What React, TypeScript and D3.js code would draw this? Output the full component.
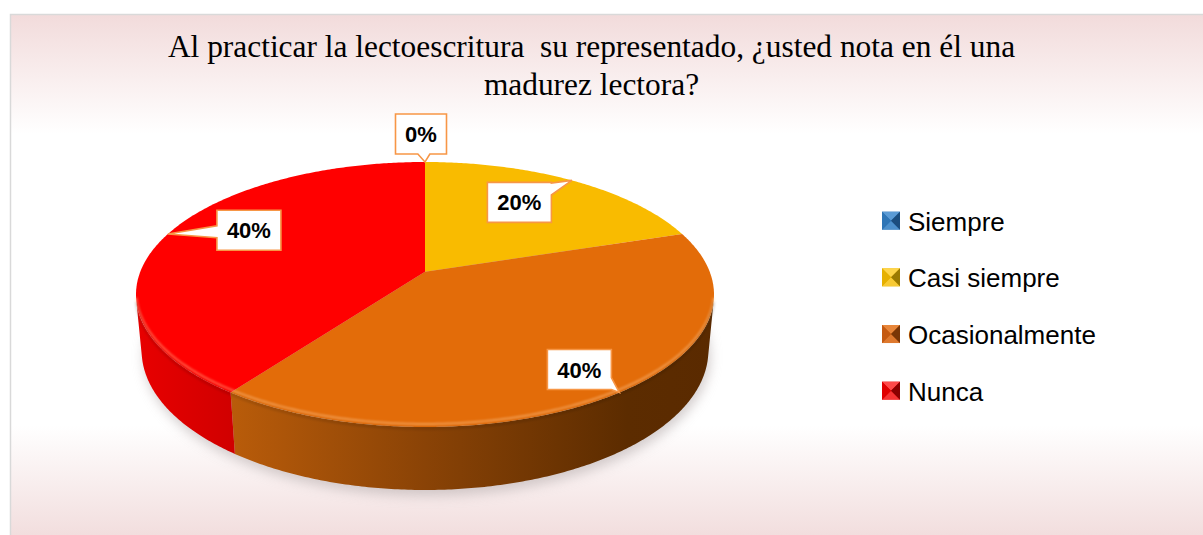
import React from "react";
import * as d3 from "d3";

const W = 1203;
const H = 535;

// ---- data ----
const categories = ["Siempre", "Casi siempre", "Ocasionalmente", "Nunca"];
const values = [0, 20, 40, 40];
const labelTexts = ["0%", "20%", "40%", "40%"];
const topColors = ["#2E75B6", "#F9BB00", "#E36C09", "#FF0000"];
const sideStops = [
  [["0", "#2E75B6"], ["1", "#1F4E79"]],
  [["0", "#E0A800"], ["1", "#8A6600"]],
  [["0", "#D0680C"], ["0.5", "#8A4306"], ["0.85", "#5C2C00"], ["1", "#5A2A00"]],
  [["0", "#E80000"], ["0.2", "#CC0000"], ["1", "#990000"]],
];
const legendColors = [
  { base: "#2E75B6", dark: "#1B4D7E", light: "#5B9BD5" },
  { base: "#E6B000", dark: "#9C7A00", light: "#FFD54A" },
  { base: "#C55A11", dark: "#7A3606", light: "#E8863A" },
  { base: "#E00000", dark: "#8B0000", light: "#FF4A4A" },
];
// label box offset from the slice's edge anchor (layout)
const labelOffsets = [
  [-4, -28],
  [-52.5, 22],
  [-40, -23],
  [81, -3.7],
];
const titleLines = [
  "Al practicar la lectoescritura  su representado, ¿usted nota en él una",
  "madurez lectora?",
];

// ---- 3D projection geometry ----
const CX = 425;
const CY = 271.7;
const F = 1476.6;
const RR = 0.1928;
const HH = 0.0428;
const SA = 0.4516;
const CA = Math.sqrt(1 - SA * SA);

function proj(t: number, y: number, r: number = RR): [number, number] {
  const X = r * Math.sin(t);
  const Z = r * Math.cos(t);
  const depth = 1 - y * SA + Z * CA;
  const up = y * CA + Z * SA;
  return [CX + (F * X) / depth, CY - (F * up) / depth];
}

function arcPts(a0: number, a1: number, y: number): [number, number][] {
  const n = Math.max(2, Math.ceil(Math.abs(a1 - a0) / 0.01));
  return d3.range(n + 1).map((i) => proj(a0 + ((a1 - a0) * i) / n, y));
}

const lineGen = d3.line<[number, number]>().curve(d3.curveLinear);
const closed = (pts: [number, number][]) => (lineGen(pts) || "") + "Z";

const visLo = Math.acos(-RR / CA);
const visHi = 2 * Math.PI - visLo;

function calloutPath(cx: number, cy: number, w: number, h: number, tip: [number, number]) {
  const x0 = cx - w / 2, x1 = cx + w / 2, y0 = cy - h / 2, y1 = cy + h / 2;
  const dx = tip[0] - cx, dy = tip[1] - cy;
  const tx = dx !== 0 ? (w / 2) / Math.abs(dx) : Infinity;
  const ty = dy !== 0 ? (h / 2) / Math.abs(dy) : Infinity;
  const half = 6;
  const clamp = (v: number, lo: number, hi: number) => Math.max(lo, Math.min(hi, v));
  let pts: [number, number][] = [];
  const TL: [number, number] = [x0, y0], TR: [number, number] = [x1, y0], BR: [number, number] = [x1, y1], BL: [number, number] = [x0, y1];
  if (tx < ty) {
    const iy = cy + dy * tx;
    const a = clamp(iy - half, y0, y1 - 2 * half);
    if (dx > 0) pts = [TL, TR, [x1, a], tip, [x1, a + 2 * half], BR, BL];
    else pts = [TL, TR, BR, BL, [x0, a + 2 * half], tip, [x0, a]];
  } else {
    const ix = cx + dx * ty;
    const a = clamp(ix - half, x0, x1 - 2 * half);
    if (dy > 0) pts = [TL, TR, BR, [a + 2 * half, y1], tip, [a, y1], BL];
    else pts = [TL, [a, y0], tip, [a + 2 * half, y0], TR, BR, BL];
  }
  return closed(pts);
}

export default function App() {
  const pie = d3
    .pie<number>()
    .sort(null)
    .value((d) => d)
    .startAngle(0)
    .endAngle(2 * Math.PI);
  const arcs = pie(values);

  const shadowPath = closed(arcPts(0, 2 * Math.PI, -HH));
  const apex = proj(0, 0, 0);

  const legendY = d3.scalePoint<string>().domain(categories).range([230.7, 400.7]);

  return (
    <svg
      width={W}
      height={H}
      style={{ position: "absolute", left: 0, top: 0 }}
      xmlns="http://www.w3.org/2000/svg"
    >
      <defs>
        <linearGradient id="bg" gradientUnits="userSpaceOnUse" x1="0" y1="14" x2="0" y2="535">
          <stop offset="0" stopColor="#F2DBDB" />
          <stop offset="0.23" stopColor="#FFFFFF" />
          <stop offset="0.79" stopColor="#FFFFFF" />
          <stop offset="1" stopColor="#F2DEDE" />
        </linearGradient>
        {sideStops.map((stops, i) => (
          <linearGradient key={i} id={`side${i}`} gradientUnits="userSpaceOnUse" x1="136" y1="0" x2="714" y2="0">
            {stops.map(([o, c], j) => (
              <stop key={j} offset={o} stopColor={c} />
            ))}
          </linearGradient>
        ))}
        <filter id="blur6" x="-20%" y="-20%" width="140%" height="140%">
          <feGaussianBlur stdDeviation="6" />
        </filter>
        <filter id="blur1" x="-10%" y="-10%" width="120%" height="120%">
          <feGaussianBlur stdDeviation="1.2" />
        </filter>
      </defs>

      <rect x={10.5} y={14.5} width={1200} height={530} fill="url(#bg)" stroke="#D9D9D9" strokeWidth={1.5} />

      {titleLines.map((t, i) => (
        <text
          key={i}
          x={591.5}
          y={57 + i * 38}
          textAnchor="middle"
          fontFamily="'Liberation Serif', 'Times New Roman', serif"
          fontSize={31.4}
          fill="#000"
          style={{ whiteSpace: "pre" }}
        >
          {t}
        </text>
      ))}

      {/* shadow */}
      <path d={shadowPath} transform="translate(2,6)" fill="#B8AEAE" opacity={0.6} filter="url(#blur6)" />

      {/* sides */}
      {arcs.map((a, i) => {
        const v0 = Math.max(a.startAngle, visLo);
        const v1 = Math.min(a.endAngle, visHi);
        if (v1 <= v0) return null;
        const pts = [...arcPts(v0, v1, 0), ...arcPts(v1, v0, -HH)];
        return <path key={"s" + i} d={closed(pts)} fill={`url(#side${i})`} />;
      })}

      {/* tops */}
      {arcs.map((a, i) => {
        if (a.endAngle - a.startAngle <= 0) return null;
        const pts = [apex, ...arcPts(a.startAngle, a.endAngle, 0)];
        return <path key={"t" + i} d={closed(pts)} fill={topColors[i]} />;
      })}

      {/* top front rim bevel */}
      <path
        d={lineGen(arcPts(visLo, visHi, 0).map(([x, y]) => [x, y - 3] as [number, number])) || ""}
        fill="none"
        stroke="#FFD0A0"
        strokeOpacity={0.45}
        strokeWidth={2}
        filter="url(#blur1)"
      />
      <path
        d={lineGen(arcPts(visLo, visHi, 0).map(([x, y]) => [x, y + 1.5] as [number, number])) || ""}
        fill="none"
        stroke="#000"
        strokeOpacity={0.12}
        strokeWidth={3}
        filter="url(#blur1)"
      />

      {/* labels */}
      {arcs.map((a, i) => {
        const mid = (a.startAngle + a.endAngle) / 2;
        const tip = proj(mid, 0);
        const bx = tip[0] + labelOffsets[i][0];
        const by = tip[1] + labelOffsets[i][1];
        const w = labelTexts[i].length <= 2 ? 51 : 64;
        const h = 40;
        return (
          <g key={"l" + i}>
            <path d={calloutPath(bx, by, w, h, tip)} fill="#FFFFFF" stroke="#F79646" strokeWidth={1.6} />
            <text
              x={bx}
              y={by + 8}
              textAnchor="middle"
              fontFamily="'Liberation Sans', Arial, sans-serif"
              fontWeight="bold"
              fontSize={22}
              fill="#000"
            >
              {labelTexts[i]}
            </text>
          </g>
        );
      })}

      {/* legend */}
      {categories.map((c, i) => {
        const y = legendY(c) as number;
        const x0 = 882, s = 18, y0 = y - 19;
        const cxm = x0 + s / 2, cym = y0 + s / 2;
        const col = legendColors[i];
        return (
          <g key={"lg" + i}>
            <rect x={x0} y={y0} width={s} height={s} fill={col.base} />
            <path d={`M${x0},${y0}L${x0 + s},${y0}L${cxm},${cym}Z`} fill={col.light} />
            <path d={`M${x0},${y0 + s}L${x0 + s},${y0 + s}L${cxm},${cym}Z`} fill={col.light} opacity={0.7} />
            <path d={`M${x0 + s},${y0}L${x0 + s},${y0 + s}L${cxm},${cym}Z`} fill={col.dark} />
            <path d={`M${x0},${y0}L${x0},${y0 + s}L${cxm},${cym}Z`} fill={col.base} />
            <text
              x={908}
              y={y}
              fontFamily="'Liberation Sans', Arial, sans-serif"
              fontSize={26}
              fill="#000"
            >
              {c}
            </text>
          </g>
        );
      })}
    </svg>
  );
}
